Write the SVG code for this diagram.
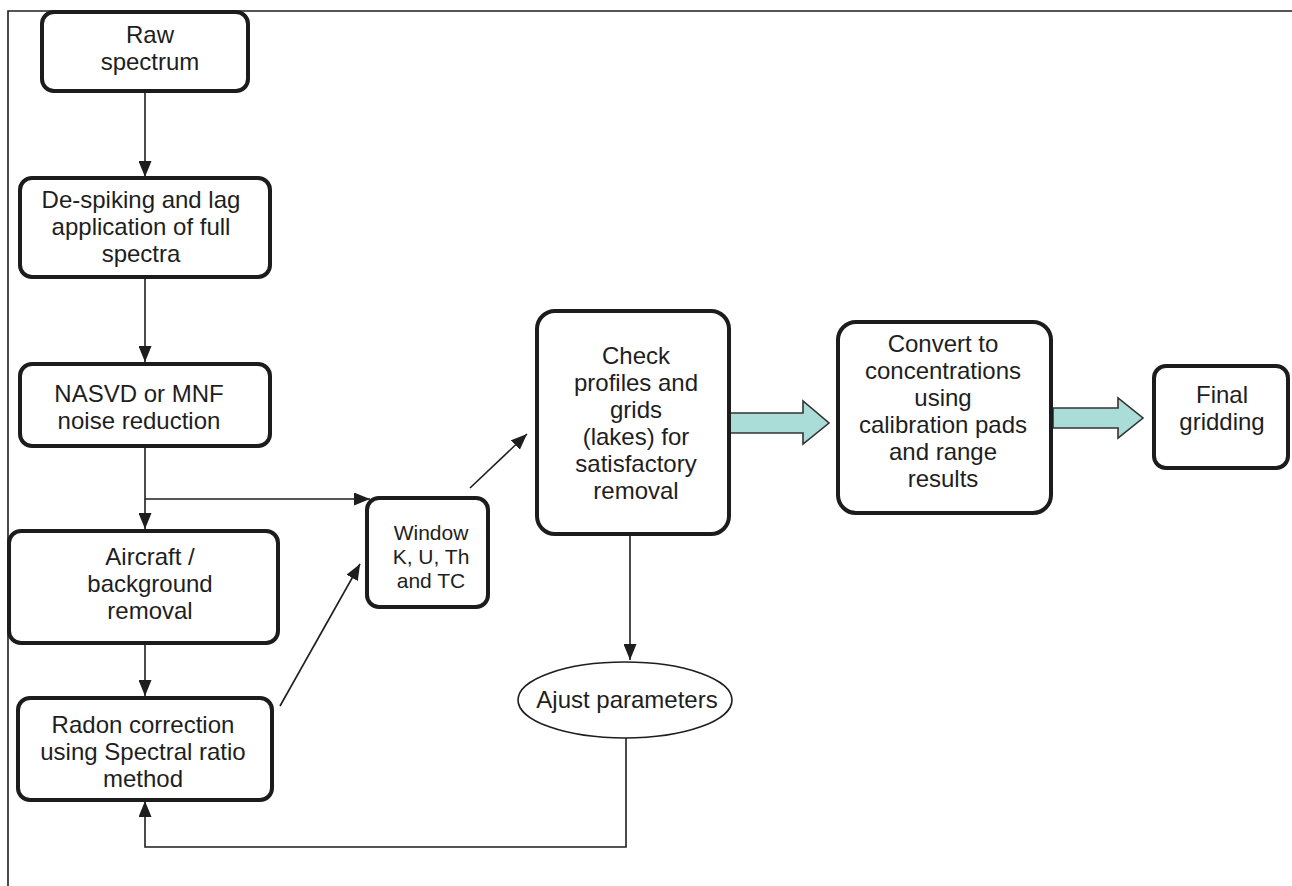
<svg xmlns="http://www.w3.org/2000/svg" width="1292" height="886" viewBox="0 0 1292 886">
<defs>
<style>
.box{fill:#fff;stroke:#1c1c1c;stroke-width:4}
.t{font-family:"Liberation Sans",Arial,sans-serif;font-size:24px;fill:#1e1e1e;text-anchor:middle}
.ts{font-family:"Liberation Sans",Arial,sans-serif;font-size:21px;fill:#1e1e1e;text-anchor:middle}
.ln{fill:none;stroke:#1e1e1e;stroke-width:1.6}
.blk{fill:#aadcd8;stroke:#333;stroke-width:1.6;stroke-linejoin:miter}
</style>
<marker id="ah" markerUnits="userSpaceOnUse" markerWidth="17" markerHeight="13" refX="16" refY="6.5" orient="auto">
<path d="M0,0 L16,6.5 L0,13 Z" fill="#1e1e1e"/>
</marker>
</defs>
<rect width="1292" height="886" fill="#fff"/>
<g id="frame">
<path class="ln" d="M8,886 V11 H1292" stroke-width="1.8"/>
</g>
<g id="connectors">
<line class="ln" x1="145" y1="91" x2="145" y2="177" marker-end="url(#ah)"/>
<line class="ln" x1="145" y1="278" x2="145" y2="362" marker-end="url(#ah)"/>
<line class="ln" x1="145" y1="447" x2="145" y2="529" marker-end="url(#ah)"/>
<line class="ln" x1="145" y1="499" x2="370" y2="499" marker-end="url(#ah)"/>
<line class="ln" x1="145" y1="644" x2="145" y2="696" marker-end="url(#ah)"/>
<line class="ln" x1="280" y1="706" x2="360" y2="564" marker-end="url(#ah)"/>
<line class="ln" x1="470" y1="488" x2="527" y2="434" marker-end="url(#ah)"/>
<line class="ln" x1="630" y1="535" x2="630" y2="660" marker-end="url(#ah)"/>
<path class="ln" d="M626,738 V847 H145 V801" marker-end="url(#ah)"/>
<path class="blk" d="M729,413 H803 V401 L829,423 L803,444 V433 H729 Z"/>
<path class="blk" d="M1053,408 H1118 V398 L1143,418 L1118,438 V428 H1053 Z"/>
</g>
<g id="raw">
<rect class="box" x="42" y="12" width="206" height="79" rx="12"/>
<text class="t" x="150" y="43">Raw</text>
<text class="t" x="150" y="70">spectrum</text>
</g>
<g id="despike">
<rect class="box" x="20" y="178" width="250" height="99" rx="12"/>
<text class="t" x="141" y="208">De-spiking and lag</text>
<text class="t" x="141" y="235">application of full</text>
<text class="t" x="141" y="262">spectra</text>
</g>
<g id="nasvd">
<rect class="box" x="20" y="364" width="250" height="82" rx="12"/>
<text class="t" x="139" y="402">NASVD or MNF</text>
<text class="t" x="139" y="429">noise reduction</text>
</g>
<g id="aircraft">
<rect class="box" x="9" y="531" width="269" height="112" rx="12"/>
<text class="t" x="150" y="565">Aircraft /</text>
<text class="t" x="150" y="592">background</text>
<text class="t" x="150" y="619">removal</text>
</g>
<g id="radon">
<rect class="box" x="18" y="698" width="254" height="102" rx="12"/>
<text class="t" x="143" y="733">Radon correction</text>
<text class="t" x="143" y="760">using Spectral ratio</text>
<text class="t" x="143" y="787">method</text>
</g>
<g id="window">
<rect class="box" x="367" y="498" width="121" height="109" rx="12"/>
<text class="ts" x="431" y="540">Window</text>
<text class="ts" x="431" y="564">K, U, Th</text>
<text class="ts" x="431" y="588">and TC</text>
</g>
<g id="check">
<rect class="box" x="537" y="311" width="192" height="223" rx="18"/>
<text class="t" x="636" y="364">Check</text>
<text class="t" x="636" y="391">profiles and</text>
<text class="t" x="636" y="418">grids</text>
<text class="t" x="636" y="445">(lakes) for</text>
<text class="t" x="636" y="472">satisfactory</text>
<text class="t" x="636" y="499">removal</text>
</g>
<g id="ajust">
<ellipse cx="625" cy="700" rx="107" ry="38" fill="#fff" stroke="#1e1e1e" stroke-width="1.6"/>
<text class="t" x="627" y="708">Ajust parameters</text>
</g>
<g id="convert">
<rect class="box" x="838" y="322" width="213" height="191" rx="18"/>
<text class="t" x="943" y="352">Convert to</text>
<text class="t" x="943" y="379">concentrations</text>
<text class="t" x="943" y="406">using</text>
<text class="t" x="943" y="433">calibration pads</text>
<text class="t" x="943" y="460">and range</text>
<text class="t" x="943" y="487">results</text>
</g>
<g id="final">
<rect class="box" x="1154" y="366" width="134" height="102" rx="12"/>
<text class="t" x="1222" y="403">Final</text>
<text class="t" x="1222" y="430">gridding</text>
</g>
</svg>
